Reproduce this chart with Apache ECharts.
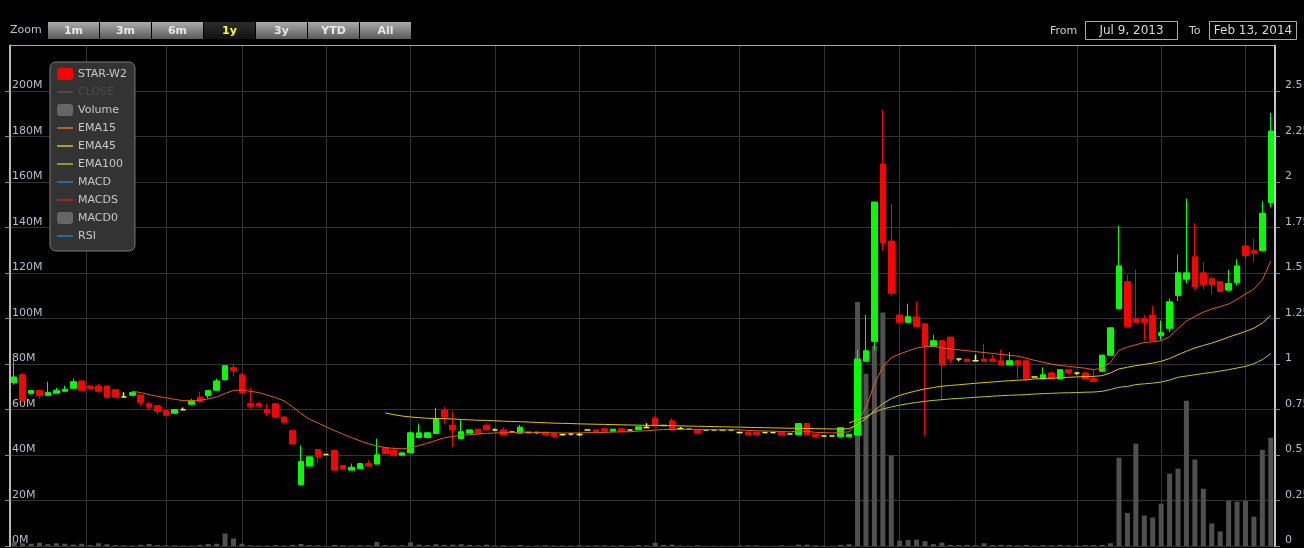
<!DOCTYPE html>
<html>
<head>
<meta charset="utf-8">
<title>STAR-W2</title>
<script src="https://cdn.jsdelivr.net/npm/echarts@6/dist/echarts.min.js"></script>
<style>
  html, body { margin: 0; padding: 0; background: #000; }
  #chart { width: 1304px; height: 548px; }
</style>
</head>
<body>
<div id="chart"></div>
<script>
// daily candles, [open, close, low, high]
const ohlc = [
  [0.899,0.929,0.887,1.024],[0.941,0.801,0.795,0.951],[0.839,0.854,0.832,0.854],[0.854,0.828,0.810,0.854],
  [0.828,0.843,0.823,0.903],[0.839,0.856,0.839,0.868],[0.850,0.861,0.850,0.881],[0.867,0.903,0.867,0.920],
  [0.907,0.856,0.856,0.907],[0.879,0.865,0.859,0.883],[0.879,0.850,0.845,0.892],[0.879,0.817,0.817,0.879],
  [0.859,0.819,0.819,0.859],[0.819,0.819,0.819,0.845],[0.828,0.843,0.823,0.850],[0.830,0.790,0.773,0.830],
  [0.782,0.764,0.750,0.793],[0.771,0.740,0.722,0.771],[0.744,0.718,0.714,0.748],[0.729,0.750,0.729,0.750],
  [0.748,0.748,0.748,0.761],[0.779,0.795,0.775,0.808],[0.819,0.793,0.786,0.848],[0.826,0.854,0.812,0.854],
  [0.856,0.907,0.856,0.920],[0.914,0.991,0.910,0.991],[0.980,0.965,0.932,1.002],[0.941,0.841,0.841,0.951],
  [0.782,0.768,0.755,0.868],[0.782,0.768,0.768,0.793],[0.750,0.731,0.713,0.782],[0.782,0.709,0.709,0.782],
  [0.709,0.680,0.680,0.709],[0.634,0.561,0.561,0.634],[0.338,0.464,0.334,0.552],[0.439,0.490,0.439,0.490],
  [0.530,0.490,0.457,0.530],[0.503,0.503,0.503,0.503],[0.525,0.417,0.417,0.530],[0.442,0.426,0.417,0.442],
  [0.417,0.433,0.417,0.453],[0.426,0.453,0.426,0.453],[0.453,0.439,0.439,0.472],[0.450,0.501,0.450,0.590],
  [0.539,0.508,0.503,0.539],[0.525,0.499,0.494,0.543],[0.499,0.512,0.499,0.512],[0.512,0.622,0.512,0.629],
  [0.596,0.622,0.592,0.673],[0.596,0.622,0.592,0.627],[0.618,0.698,0.618,0.759],[0.746,0.710,0.670,0.765],
  [0.664,0.638,0.545,0.741],[0.591,0.628,0.587,0.693],[0.620,0.638,0.620,0.638],[0.642,0.620,0.620,0.642],
  [0.664,0.638,0.638,0.675],[0.638,0.638,0.638,0.646],[0.638,0.611,0.611,0.653],[0.627,0.627,0.627,0.627],
  [0.620,0.653,0.620,0.666],[0.624,0.624,0.624,0.624],[0.624,0.624,0.617,0.624],[0.626,0.611,0.611,0.626],
  [0.618,0.602,0.602,0.618],[0.613,0.613,0.606,0.613],[0.615,0.615,0.609,0.618],[0.613,0.613,0.604,0.622],
  [0.637,0.637,0.637,0.637],[0.638,0.626,0.626,0.638],[0.644,0.631,0.628,0.651],[0.631,0.642,0.631,0.642],
  [0.644,0.631,0.631,0.651],[0.637,0.637,0.637,0.637],[0.638,0.655,0.638,0.655],[0.651,0.651,0.651,0.675],
  [0.702,0.660,0.660,0.713],[0.662,0.662,0.662,0.662],[0.688,0.638,0.638,0.702],[0.644,0.644,0.644,0.655],
  [0.642,0.642,0.642,0.642],[0.638,0.620,0.620,0.638],[0.637,0.637,0.637,0.637],[0.637,0.637,0.637,0.637],
  [0.637,0.637,0.637,0.637],[0.637,0.637,0.637,0.637],[0.624,0.624,0.618,0.624],[0.626,0.611,0.611,0.626],
  [0.626,0.611,0.611,0.626],[0.624,0.624,0.624,0.624],[0.624,0.624,0.624,0.624],[0.626,0.611,0.611,0.626],
  [0.615,0.615,0.615,0.615],[0.611,0.673,0.611,0.673],[0.673,0.611,0.611,0.673],[0.615,0.600,0.600,0.615],
  [0.604,0.604,0.604,0.604],[0.604,0.604,0.604,0.604],[0.600,0.650,0.600,0.650],[0.600,0.614,0.600,0.614],
  [0.609,1.027,0.605,1.079],[1.015,1.073,1.015,1.271],[1.124,1.890,1.075,1.890],[2.099,1.667,1.623,2.395],
  [1.676,1.389,1.375,1.879],[1.269,1.229,1.225,1.320],[1.229,1.260,1.229,1.331],[1.258,1.207,1.207,1.342],
  [1.221,1.097,0.603,1.221],[1.097,1.128,1.097,1.161],[1.128,0.996,0.799,1.128],[1.148,1.027,1.005,1.148],
  [1.027,1.027,1.015,1.027],[1.027,1.015,1.015,1.027],[1.018,1.018,1.018,1.051],[1.027,1.015,1.015,1.112],
  [1.027,1.015,1.015,1.051],[1.018,0.996,0.996,1.079],[0.996,1.018,0.996,1.066],[1.018,0.996,0.923,1.018],
  [1.018,0.918,0.905,1.018],[0.929,0.929,0.929,0.929],[0.918,0.941,0.918,0.982],[0.951,0.918,0.918,0.960],
  [0.918,0.969,0.918,0.969],[0.969,0.951,0.941,0.969],[0.951,0.951,0.941,0.951],[0.951,0.918,0.918,0.960],
  [0.920,0.905,0.905,0.969],[0.960,1.049,0.960,1.049],[1.048,1.199,1.048,1.199],[1.305,1.539,1.305,1.759],
  [1.452,1.207,1.203,1.490],[1.249,1.229,1.225,1.517],[1.249,1.229,1.130,1.269],[1.269,1.130,1.130,1.320],
  [1.157,1.172,1.133,1.239],[1.196,1.342,1.175,1.360],[1.377,1.501,1.346,1.601],[1.466,1.501,1.444,1.909],
  [1.589,1.426,1.411,1.773],[1.501,1.437,1.411,1.561],[1.468,1.437,1.382,1.479],[1.452,1.399,1.399,1.452],
  [1.406,1.442,1.402,1.517],[1.448,1.539,1.431,1.576],[1.649,1.596,1.569,1.797],[1.623,1.609,1.563,1.687],
  [1.623,1.828,1.623,1.894],[1.887,2.280,1.861,2.380]
];

// volume in millions
const volume = [
  1.6,1.2,1.0,1.4,0.8,1.2,1.0,0.6,1.0,0.4, 1.2,0.8,0.4,0.3,0.2,0.5,0.9,0.4,0.3,0.3,
  0.2,0.2,0.5,0.9,1.0,5.5,3.3,1.0,0.3,0.2, 0.2,0.4,0.2,0.5,0.9,0.4,0.3,0.1,0.5,0.3,
  0.2,0.3,0.3,1.8,0.4,0.3,0.3,1.6,0.6,0.4, 0.8,0.5,0.6,0.8,0.5,0.3,0.6,0.2,0.3,0.1,
  0.4,0.1,0.2,0.3,0.2,0.2,0.2,0.3,0.2,0.3, 0.3,0.2,0.3,0.1,0.4,0.3,1.4,0.5,0.6,0.2,
  0.1,0.3,0.1,0.1,0.1,0.1,0.2,0.3,0.3,0.1, 0.1,0.3,0.1,0.6,0.6,0.3,0.1,0.1,0.5,0.8,
  107.2,75.7,88.0,102.6,39.8,2.4,2.6,2.8,2.1,0.8, 1.5,0.5,0.4,0.5,0.3,1.2,0.4,0.5,0.4,0.3,
  0.5,0.2,0.4,0.3,0.5,0.3,0.2,0.4,0.4,0.5, 1.2,38.8,14.5,45.0,13.4,12.5,18.6,31.8,34.0,63.8,
  38.0,25.2,9.9,6.4,19.9,19.5,19.9,12.9,42.3,47.6
];

// moving averages, each starting at its first drawn candle
const ema15Start = 14;
const ema15 = [
  .850,.843,.832,.822,.814,.806,.799,.799,.801,.808,
  .819,.838,.855,.857,.850,.843,.829,.815,.797,.765,
  .728,.697,.676,.655,.634,.614,.595,.578,.562,.549,
  .541,.536,.534,.540,.552,.565,.580,.594,.602,.608,
  .612,.615,.619,.621,.622,.623,.625,.625,.624,.623,
  .622,.621,.621,.621,.623,.623,.624,.626,.627,.628,
  .631,.633,.637,.640,.640,.641,.641,.640,.640,.639,
  .639,.639,.638,.635,.633,.632,.631,.629,.627,.632,
  .629,.625,.623,.621,.624,.627,.680,.760,.890,.985,
  1.035,1.055,1.072,1.088,1.095,1.097,1.088,1.083,1.078,1.073,
  1.068,1.063,1.058,1.053,1.048,1.043,1.032,1.020,1.010,.999,
  .992,.987,.982,.977,.969,.978,1.009,1.075,1.093,1.106,
  1.118,1.122,1.128,1.150,1.195,1.235,1.262,1.285,1.302,1.315,
  1.330,1.355,1.385,1.412,1.462,1.565
];
const ema45Start = 44;
const ema45 = [
  .731,.722,.714,.709,.705,.702,.700,.700,.698,.695,
  .693,.691,.690,.688,.686,.684,.683,.681,.679,.677,
  .675,.674,.673,.671,.670,.669,.668,.667,.666,.665,
  .664,.663,.663,.662,.661,.660,.659,.658,.657,.656,
  .655,.654,.653,.652,.651,.650,.649,.648,.647,.647,
  .646,.645,.644,.643,.643,.645,.668,.700,.745,.782,
  .810,.828,.841,.853,.863,.871,.878,.882,.886,.890,
  .894,.898,.901,.905,.908,.911,.913,.918,.920,.922,
  .925,.927,.929,.931,.932,.936,.951,.973,.982,.991,
  .998,1.005,1.015,1.030,1.051,1.070,1.088,1.102,1.115,1.130,
  1.148,1.163,1.179,1.197,1.225,1.267
];
const ema100Start = 99;
const ema100 = [
  .676,.695,.709,.735,.753,.764,.774,.782,.789,.795,
  .800,.804,.808,.811,.814,.817,.820,.823,.826,.828,
  .830,.832,.835,.837,.839,.841,.842,.843,.845,.846,
  .850,.860,.872,.877,.887,.891,.895,.901,.912,.927,
  .934,.941,.948,.954,.961,.969,.978,.987,1.002,1.024,1.057
];

// vertical grid lines, counted in half-candle slots from the left edge
const gridSlots = [18, 37, 55, 75, 95, 115, 135, 153, 173, 193, 211, 229, 253, 273, 293];

const rangeButtons = ['1m', '3m', '6m', '1y', '3y', 'YTD', 'All'];
const rangeSelected = '1y';
const fromDate = 'Jul 9, 2013';
const toDate = 'Feb 13, 2014';

const UP = '#00ff00', DOWN = '#ff0000', DOJI = '#ffff00';
const FONT = '"DejaVu Sans", sans-serif';
// thin bar used as legend icon for line series
const LINE_ICON = 'path://M0,0L0,0M0,5L16,5L16,7L0,7ZM16,12L16,12';

const days = ohlc.map((_, i) => String(i));
const halfSlots = new Array(ohlc.length * 2).fill(0).map((_, i) => String(i));
const pad = (start, arr) => new Array(start).fill(null).concat(arr);

const candles = ohlc.map(d => {
  if (d[0] !== d[1]) return d;
  return {
    value: d,
    itemStyle: { color: DOJI, color0: DOJI, borderColor: DOJI, borderColor0: DOJI, borderWidth: 1.5 }
  };
});

const chart = echarts.init(document.getElementById('chart'), null, { renderer: 'canvas' });

const graphics = [
  { type: 'text', left: 10, top: 25, style: { text: 'Zoom', fill: '#b8c2cc', font: '11px ' + FONT } }
];
rangeButtons.forEach((label, i) => {
  const on = label === rangeSelected;
  const x = 48 + i * 52;
  graphics.push({
    type: 'rect',
    shape: { x: x, y: 22, width: 51, height: 17 },
    style: {
      fill: new echarts.graphic.LinearGradient(0, 0, 0, 1, on
        ? [{ offset: 0, color: '#2c2c2c' }, { offset: 1, color: '#121212' }]
        : [{ offset: 0, color: '#ababab' }, { offset: 1, color: '#5a5a5a' }])
    }
  });
  graphics.push({
    type: 'text',
    style: {
      text: label, x: x + 25.5, y: 31, align: 'center', verticalAlign: 'middle',
      fill: on ? '#ffff00' : '#e8e8e8', font: 'bold 11px ' + FONT
    }
  });
});
graphics.push(
  { type: 'text', style: { text: 'From', x: 1050, y: 31, verticalAlign: 'middle', fill: '#cfcfcf', font: '11px ' + FONT } },
  { type: 'rect', shape: { x: 1085.5, y: 21.5, width: 92, height: 18 }, style: { fill: 'none', stroke: '#a8a8a8', lineWidth: 1 } },
  { type: 'text', style: { text: fromDate, x: 1131.5, y: 31, align: 'center', verticalAlign: 'middle', fill: '#d8d8d8', font: '12px ' + FONT } },
  { type: 'text', style: { text: 'To', x: 1189, y: 31, verticalAlign: 'middle', fill: '#cfcfcf', font: '11px ' + FONT } },
  { type: 'rect', shape: { x: 1209.5, y: 21.5, width: 87, height: 18 }, style: { fill: 'none', stroke: '#a8a8a8', lineWidth: 1 } },
  { type: 'text', style: { text: toDate, x: 1253, y: 31, align: 'center', verticalAlign: 'middle', fill: '#d8d8d8', font: '12px ' + FONT } }
);

const lineItem = (name, color) => ({ name: name, icon: LINE_ICON, itemStyle: { color: color, borderWidth: 0 } });

const option = {
  backgroundColor: '#000',
  animation: false,
  textStyle: { fontFamily: FONT },
  grid: { left: 10, right: 29, top: 45.5, bottom: 2, containLabel: false, outerBoundsMode: 'none' },
  legend: {
    orient: 'vertical',
    left: 50,
    top: 62,
    padding: [6, 8, 9, 7],
    itemWidth: 16,
    itemHeight: 12,
    itemGap: 6,
    backgroundColor: '#333',
    borderColor: '#7a7a7a',
    borderWidth: 1,
    borderRadius: 6,
    inactiveColor: '#4a4a4a',
    textStyle: { color: '#c8c8c8', fontSize: 11, fontFamily: FONT },
    selected: { CLOSE: false },
    data: [
      { name: 'STAR-W2', icon: 'roundRect', itemStyle: { color: '#ff0000', borderColor: '#ff0000', borderWidth: 0 } },
      lineItem('CLOSE', '#888'),
      { name: 'Volume', icon: 'roundRect', itemStyle: { color: '#666', borderWidth: 0 } },
      lineItem('EMA15', '#b3602c'),
      lineItem('EMA45', '#b39a2c'),
      lineItem('EMA100', '#8c9c2c'),
      lineItem('MACD', '#2a68a6'),
      lineItem('MACDS', '#a42222'),
      { name: 'MACD0', icon: 'roundRect', itemStyle: { color: '#666', borderWidth: 0 } },
      lineItem('RSI', '#2a68a6')
    ]
  },
  graphic: graphics,
  xAxis: [
    {
      type: 'category',
      data: days,
      boundaryGap: true,
      position: 'top',
      axisLine: { show: true, onZero: false, lineStyle: { color: '#a8a8a8', width: 1 } },
      axisTick: { show: false },
      axisLabel: { show: false },
      splitLine: { show: false }
    },
    {
      type: 'category',
      data: halfSlots,
      boundaryGap: true,
      position: 'bottom',
      axisLine: { show: false },
      axisTick: { show: false },
      axisLabel: { show: false },
      splitLine: {
        show: true,
        interval: (i) => gridSlots.indexOf(i) >= 0,
        lineStyle: { color: '#333', width: 1 }
      }
    }
  ],
  yAxis: [
    {
      type: 'value',
      position: 'left',
      min: 0,
      max: 220,
      interval: 20,
      axisLine: { show: true, lineStyle: { color: '#b8b8b8', width: 2 } },
      axisTick: { show: true, length: 5, lineStyle: { color: '#888' } },
      axisLabel: {
        inside: true, margin: 2, verticalAlign: 'bottom', showMaxLabel: false,
        color: '#b8bcc4', fontSize: 11, fontFamily: FONT,
        formatter: v => v + 'M'
      },
      splitLine: { show: false }
    },
    {
      type: 'value',
      position: 'right',
      min: 0,
      max: 2.75,
      interval: 0.25,
      axisLine: { show: true, lineStyle: { color: '#c8c8c8', width: 2 } },
      axisTick: { show: true, length: 5, lineStyle: { color: '#888' } },
      axisLabel: {
        margin: 10, verticalAlign: 'bottom', showMaxLabel: false,
        color: '#b8bcc4', fontSize: 11, fontFamily: FONT
      },
      splitLine: { show: true, lineStyle: { color: '#333', width: 1 } }
    }
  ],
  series: [
    {
      name: 'Volume',
      type: 'bar',
      stack: 'vol',
      xAxisIndex: 0,
      yAxisIndex: 0,
      barWidth: 5,
      data: volume,
      itemStyle: { color: '#505050' },
      z: 1
    },
    {
      name: 'MACD0',
      type: 'bar',
      stack: 'vol',
      xAxisIndex: 0,
      yAxisIndex: 0,
      data: [],
      itemStyle: { color: '#666' }
    },
    {
      name: 'STAR-W2',
      type: 'candlestick',
      xAxisIndex: 0,
      yAxisIndex: 1,
      barWidth: 6,
      data: candles,
      itemStyle: {
        color: UP, color0: DOWN, borderColor: UP, borderColor0: DOWN,
        borderColorDoji: DOJI, borderWidth: 1
      },
      z: 3
    },
    {
      name: 'EMA15', type: 'line', xAxisIndex: 0, yAxisIndex: 1,
      data: pad(ema15Start, ema15), symbol: 'none', showSymbol: false,
      lineStyle: { color: '#e0600e', width: 1 }, itemStyle: { color: '#e0600e' }, z: 4
    },
    {
      name: 'EMA45', type: 'line', xAxisIndex: 0, yAxisIndex: 1,
      data: pad(ema45Start, ema45), symbol: 'none', showSymbol: false,
      lineStyle: { color: '#e2c400', width: 1 }, itemStyle: { color: '#e2c400' }, z: 4
    },
    {
      name: 'EMA100', type: 'line', xAxisIndex: 0, yAxisIndex: 1,
      data: pad(ema100Start, ema100), symbol: 'none', showSymbol: false,
      lineStyle: { color: '#b4cc14', width: 1 }, itemStyle: { color: '#b4cc14' }, z: 4
    },
    { name: 'CLOSE', type: 'line', xAxisIndex: 0, yAxisIndex: 1, data: [], symbol: 'none', lineStyle: { color: '#888' }, itemStyle: { color: '#888' } },
    { name: 'MACD', type: 'line', xAxisIndex: 0, yAxisIndex: 1, data: [], symbol: 'none', lineStyle: { color: '#2a68a6' }, itemStyle: { color: '#2a68a6' } },
    { name: 'MACDS', type: 'line', xAxisIndex: 0, yAxisIndex: 1, data: [], symbol: 'none', lineStyle: { color: '#a42222' }, itemStyle: { color: '#a42222' } },
    { name: 'RSI', type: 'line', xAxisIndex: 0, yAxisIndex: 1, data: [], symbol: 'none', lineStyle: { color: '#2a68a6' }, itemStyle: { color: '#2a68a6' } }
  ]
};

chart.setOption(option);
</script>
</body>
</html>
